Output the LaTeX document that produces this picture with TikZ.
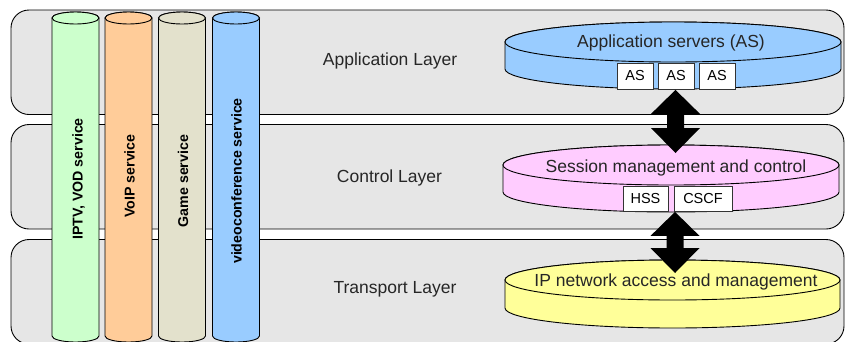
\documentclass[tikz,border=0pt]{standalone}
\usepackage{fontspec}
\setmainfont{Liberation Sans}
\usetikzlibrary{calc}
\definecolor{layergray}{RGB}{230,230,230}
\definecolor{cgreen}{RGB}{204,255,204}
\definecolor{corange}{RGB}{255,204,153}
\definecolor{cbeige}{RGB}{227,225,204}
\definecolor{cblue}{RGB}{153,204,255}
\definecolor{cpink}{RGB}{255,204,255}
\definecolor{cyellow}{RGB}{255,255,153}
\newcommand{\vcyl}[3]{% cx, color, name
  \filldraw[fill=#2] (#1-23.5,18) -- (#1-23.5,336)
    arc[start angle=180,end angle=0,x radius=23.5,y radius=6] -- (#1+23.5,18)
    arc[start angle=0,end angle=-180,x radius=23.5,y radius=6] -- cycle;
  \filldraw[fill=#2] (#1,18) ellipse[x radius=23.5,y radius=6];
  \coordinate (#3) at (#1,18);}
\newcommand{\hdisk}[6]{% cx, cy, rx, ry, h, color
  \filldraw[fill=#6] (#1-#3,#2) -- (#1-#3,#2+#5)
    arc[start angle=180,end angle=0,x radius=#3,y radius=#4] -- (#1+#3,#2)
    arc[start angle=0,end angle=-180,x radius=#3,y radius=#4] -- cycle;
  \filldraw[fill=#6] (#1,#2) ellipse[x radius=#3,y radius=#4];}
\newcommand{\dblarrow}[2]{%
  \fill[black] (#1) -- ($(#1)+(24.5,24)$) -- ($(#1)+(8.5,24)$) -- ($(#2)+(8.5,-25)$)
    -- ($(#2)+(24.5,-25)$) -- (#2) -- ($(#2)+(-24.5,-25)$) -- ($(#2)+(-8.5,-25)$)
    -- ($(#1)+(-8.5,24)$) -- ($(#1)+(-24.5,24)$) -- cycle;}
\begin{document}
\begin{tikzpicture}[x=1pt,y=-1pt,line width=0.9pt,
  layerbox/.style={draw=black,fill=layergray,rounded corners=18pt,minimum width=833pt,minimum height=104.5pt,inner sep=0pt},
  layertext/.style={anchor=base,inner sep=0pt,font=\fontsize{17.5}{20}\selectfont,text=black!85},
  svctext/.style={anchor=base,rotate=90,inner sep=0pt,font=\bfseries\fontsize{14.2}{16}\selectfont},
  smallbox/.style={draw=black!80,line width=0.8pt,fill=white,minimum height=25pt,inner sep=0pt,font=\fontsize{14.5}{16}\selectfont}]
\useasboundingbox (0,0) rectangle (845,341);
\clip (0,0) rectangle (845,341);
% layers
\node[layerbox] (lapp) at (427.5,62.25) {};
\node[layerbox] (lctl) at (427.5,176.75) {};
\node[layerbox] (ltrn) at (427.5,291.75) {};
\node[layertext] (tapp) at (390,65.7) {Application Layer};
\node[layertext] (tctl) at (389.5,182.7) {Control Layer};
\node[layertext] (ttrn) at (395,293.3) {Transport Layer};
% vertical service cylinders
\vcyl{75.5}{cgreen}{c1}
\vcyl{128.5}{corange}{c2}
\vcyl{182}{cbeige}{c3}
\vcyl{236}{cblue}{c4}
\node[svctext] (s1) at (82.7,179) {IPTV, VOD service};
\node[svctext] (s2) at (134.5,176) {VoIP service};
\node[svctext] (s3) at (188,181) {Game service};
\node[svctext] (s4) at (241.5,181) {videoconference service};
% disks
\hdisk{673}{42}{168}{20}{27}{cblue}
\hdisk{671}{165}{168}{20}{27}{cpink}
\hdisk{672.5}{280}{167.5}{20}{28}{cyellow}
\node[layertext] (dapp) at (671,47) {Application servers (AS)};
\node[layertext] (dsess) at (676,172.5) {Session management and control};
\node[layertext] (dip) at (676,286.7) {IP network access and management};
% small boxes
\node[smallbox,minimum width=36pt,minimum height=26pt] (as1) at (635,76) {AS};
\node[smallbox,minimum width=36pt,minimum height=26pt] (as2) at (676,76) {AS};
\node[smallbox,minimum width=36pt,minimum height=26pt] (as3) at (717,76) {AS};
\node[smallbox,minimum width=45pt] (hss) at (645.5,198.5) {HSS};
\node[smallbox,minimum width=58pt] (cscf) at (703,198.5) {CSCF};
% arrows
\coordinate (a1t) at ($(as2.south)+(-0.5,0.5)$);
\coordinate (a1b) at (675.5,153);
\coordinate (a2t) at ($(hss.south east)!0.5!(cscf.south west)+(4,0.5)$);
\coordinate (a2b) at (675,273);
\dblarrow{a1t}{a1b}
\dblarrow{a2t}{a2b}
\end{tikzpicture}
\end{document}
